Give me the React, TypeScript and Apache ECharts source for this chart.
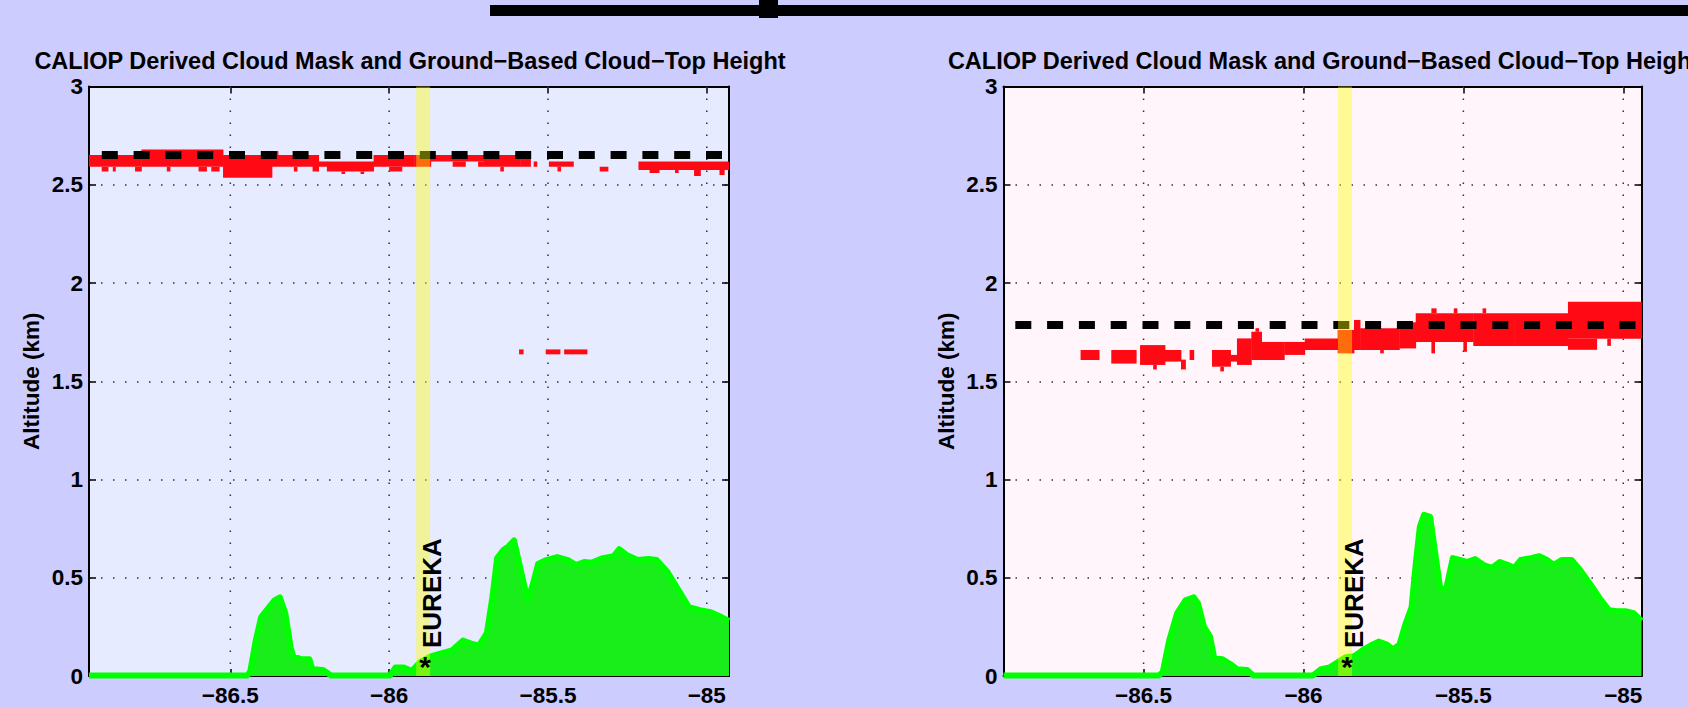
import React, { useEffect, useRef } from 'react';
import * as echarts from 'echarts';

const FONT = '"Liberation Sans", Arial, Helvetica, sans-serif';
const TITLE = 'CALIOP Derived Cloud Mask and Ground\u2212Based Cloud\u2212Top Height';
const Y_NAME = 'Altitude (km)';
const STATION = 'EUREKA';
const STATION_MARK = '*';

const X_TICKS = [-86.5, -86, -85.5, -85];
const Y_MIN = 0;
const Y_MAX = 3;
const Y_STEP = 0.5;

const LEFT_X_RANGE = [-86.945, -84.93];
const RIGHT_X_RANGE = [-86.938, -84.943];

const LEFT_EUREKA_LON = -85.893;
const RIGHT_EUREKA_LON = -85.87;
const EUREKA_HALF_WIDTH = 0.022;

const LEFT_CLOUD_TOP = 2.652;
const RIGHT_CLOUD_TOP = 1.786;

// cloud mask cells: [lonStart, lonEnd, altBottom, altTop]
const LEFT_CLOUD = [
  [-86.945, -86.78, 2.592, 2.652],
  [-86.905, -86.885, 2.567, 2.592],
  [-86.87, -86.862, 2.567, 2.592],
  [-86.8, -86.78, 2.567, 2.592],
  [-86.78, -86.523, 2.592, 2.68],
  [-86.7, -86.69, 2.567, 2.592],
  [-86.6, -86.575, 2.567, 2.592],
  [-86.56, -86.535, 2.567, 2.592],
  [-86.523, -86.369, 2.536, 2.652],
  [-86.369, -86.241, 2.592, 2.652],
  [-86.36, -86.35, 2.652, 2.672],
  [-86.3, -86.29, 2.567, 2.592],
  [-86.241, -86.222, 2.567, 2.652],
  [-86.222, -86.196, 2.592, 2.618],
  [-86.196, -86.049, 2.567, 2.618],
  [-86.15, -86.14, 2.555, 2.567],
  [-86.09, -86.08, 2.555, 2.567],
  [-86.049, -85.921, 2.592, 2.652],
  [-86.0, -85.96, 2.567, 2.592],
  [-85.921, -85.869, 2.592, 2.652],
  [-85.869, -85.703, 2.618, 2.652],
  [-85.8, -85.76, 2.592, 2.618],
  [-85.72, -85.703, 2.592, 2.618],
  [-85.703, -85.587, 2.592, 2.652],
  [-85.65, -85.64, 2.567, 2.592],
  [-85.587, -85.555, 2.592, 2.637],
  [-85.545, -85.535, 2.592, 2.618],
  [-85.497, -85.42, 2.592, 2.618],
  [-85.47, -85.46, 2.567, 2.592],
  [-85.337, -85.311, 2.567, 2.592],
  [-85.215, -84.93, 2.575, 2.618],
  [-85.18, -85.15, 2.56, 2.575],
  [-85.1, -85.09, 2.56, 2.575],
  [-85.04, -85.02, 2.545, 2.575],
  [-84.96, -84.945, 2.55, 2.575],
  [-85.591, -85.578, 1.637, 1.662],
  [-85.507, -85.462, 1.637, 1.662],
  [-85.449, -85.377, 1.637, 1.662],
];

const RIGHT_CLOUD = [
  [-86.697, -86.639, 1.608, 1.659],
  [-86.601, -86.523, 1.59, 1.659],
  [-86.511, -86.433, 1.583, 1.684],
  [-86.47, -86.46, 1.56, 1.583],
  [-86.433, -86.383, 1.6, 1.659],
  [-86.383, -86.369, 1.56, 1.61],
  [-86.356, -86.343, 1.608, 1.659],
  [-86.286, -86.228, 1.574, 1.659],
  [-86.26, -86.25, 1.55, 1.574],
  [-86.228, -86.208, 1.6, 1.634],
  [-86.208, -86.163, 1.583, 1.718],
  [-86.163, -86.131, 1.608, 1.752],
  [-86.15, -86.14, 1.752, 1.77],
  [-86.131, -86.06, 1.608, 1.7],
  [-86.06, -85.996, 1.634, 1.7],
  [-85.996, -85.893, 1.659, 1.718],
  [-85.893, -85.842, 1.642, 1.761],
  [-85.842, -85.823, 1.659, 1.812],
  [-85.823, -85.7, 1.659, 1.77],
  [-85.76, -85.75, 1.642, 1.659],
  [-85.7, -85.649, 1.667, 1.8],
  [-85.649, -85.469, 1.7, 1.846],
  [-85.6, -85.585, 1.846, 1.871],
  [-85.53, -85.52, 1.846, 1.871],
  [-85.6, -85.59, 1.642, 1.7],
  [-85.5, -85.49, 1.65, 1.7],
  [-85.469, -85.34, 1.68, 1.846],
  [-85.44, -85.43, 1.846, 1.871],
  [-85.34, -85.173, 1.68, 1.846],
  [-85.173, -84.943, 1.716, 1.905],
  [-85.173, -85.083, 1.66, 1.716],
  [-85.05, -85.04, 1.68, 1.716],
];

// terrain profile: [lon, altitude]
const LEFT_TERRAIN = [
  [-86.945, 0.003], [-86.446, 0.003], [-86.437, 0.025], [-86.42, 0.18], [-86.403, 0.3],
  [-86.378, 0.35], [-86.361, 0.385], [-86.344, 0.4], [-86.327, 0.32], [-86.31, 0.145],
  [-86.302, 0.1], [-86.276, 0.085], [-86.251, 0.085], [-86.242, 0.035], [-86.208, 0.03],
  [-86.183, 0.003], [-85.997, 0.003], [-85.98, 0.043], [-85.954, 0.043], [-85.929, 0.025],
  [-85.903, 0.07], [-85.869, 0.1], [-85.836, 0.115], [-85.802, 0.13], [-85.768, 0.18],
  [-85.742, 0.165], [-85.717, 0.155], [-85.692, 0.22], [-85.675, 0.4], [-85.66, 0.6],
  [-85.641, 0.64], [-85.624, 0.66], [-85.607, 0.69], [-85.59, 0.57], [-85.564, 0.385],
  [-85.547, 0.47], [-85.531, 0.57], [-85.505, 0.59], [-85.471, 0.605], [-85.437, 0.59],
  [-85.412, 0.565], [-85.386, 0.58], [-85.361, 0.577], [-85.327, 0.6], [-85.293, 0.61],
  [-85.276, 0.645], [-85.251, 0.615], [-85.217, 0.59], [-85.183, 0.595], [-85.158, 0.59],
  [-85.124, 0.53], [-85.09, 0.44], [-85.056, 0.35], [-85.022, 0.335], [-84.988, 0.325],
  [-84.954, 0.3], [-84.93, 0.28],
];

const RIGHT_TERRAIN = [
  [-86.938, 0.003], [-86.452, 0.003], [-86.44, 0.02], [-86.42, 0.18], [-86.395, 0.32],
  [-86.369, 0.385], [-86.343, 0.4], [-86.33, 0.37], [-86.311, 0.25], [-86.292, 0.2],
  [-86.279, 0.09], [-86.253, 0.085], [-86.228, 0.06], [-86.208, 0.035], [-86.176, 0.03],
  [-86.157, 0.003], [-85.97, 0.003], [-85.945, 0.035], [-85.919, 0.043], [-85.893, 0.07],
  [-85.868, 0.095], [-85.842, 0.1], [-85.816, 0.13], [-85.79, 0.155], [-85.765, 0.175],
  [-85.739, 0.16], [-85.72, 0.135], [-85.7, 0.16], [-85.681, 0.265], [-85.662, 0.35],
  [-85.649, 0.57], [-85.636, 0.76], [-85.623, 0.82], [-85.604, 0.81], [-85.591, 0.66],
  [-85.572, 0.44], [-85.553, 0.45], [-85.533, 0.6], [-85.508, 0.59], [-85.488, 0.58],
  [-85.463, 0.595], [-85.437, 0.565], [-85.411, 0.55], [-85.386, 0.58], [-85.36, 0.565],
  [-85.341, 0.55], [-85.321, 0.59], [-85.289, 0.6], [-85.263, 0.61], [-85.238, 0.59],
  [-85.218, 0.565], [-85.193, 0.59], [-85.161, 0.59], [-85.135, 0.54], [-85.096, 0.45],
  [-85.071, 0.39], [-85.045, 0.335], [-85.019, 0.33], [-84.993, 0.33], [-84.968, 0.32],
  [-84.943, 0.28],
];

const PANELS = [
  {
    grid: { left: 89, top: 86.5, width: 640, height: 589.5 },
    bg: '#E6EBFF',
    xRange: LEFT_X_RANGE,
    cloud: LEFT_CLOUD,
    cloudTop: LEFT_CLOUD_TOP,
    terrain: LEFT_TERRAIN,
    eureka: LEFT_EUREKA_LON,
    dashOffset: 19,
  },
  {
    grid: { left: 1003.5, top: 86.5, width: 638, height: 589.5 },
    bg: '#FFF5FA',
    xRange: RIGHT_X_RANGE,
    cloud: RIGHT_CLOUD,
    cloudTop: RIGHT_CLOUD_TOP,
    terrain: RIGHT_TERRAIN,
    eureka: RIGHT_EUREKA_LON,
    dashOffset: 20,
  },
];

const fmtLon = (v: number) => (v < 0 ? '\u2212' : '') + String(Math.abs(v));

function buildOption() {
  const grid: any[] = [];
  const xAxis: any[] = [];
  const yAxis: any[] = [];
  const series: any[] = [];
  const graphic: any[] = [];

  const axisLine = { show: true, onZero: false, lineStyle: { color: '#000', width: 2 } };
  const tickStyle = { color: '#000', width: 1.5 };
  const labelStyle = { color: '#000', fontSize: 22.5, fontWeight: 'bold', fontFamily: FONT };

  PANELS.forEach((p, g) => {
    grid.push({ ...p.grid, show: true, backgroundColor: p.bg, borderWidth: 0, containLabel: false });
    const [xmin, xmax] = p.xRange;
    xAxis.push({
      gridIndex: g, type: 'value', min: xmin, max: xmax, position: 'bottom',
      axisLine,
      axisTick: { show: true, inside: true, length: 7, customValues: X_TICKS, lineStyle: tickStyle },
      axisLabel: { show: true, customValues: X_TICKS, formatter: fmtLon, margin: 8, ...labelStyle },
      splitLine: { show: false },
    });
    xAxis.push({
      gridIndex: g, type: 'value', min: xmin, max: xmax, position: 'top',
      axisLine,
      axisTick: { show: true, inside: true, length: 7, customValues: X_TICKS, lineStyle: tickStyle },
      axisLabel: { show: false },
      splitLine: { show: false },
    });
    yAxis.push({
      gridIndex: g, type: 'value', min: Y_MIN, max: Y_MAX, interval: Y_STEP, position: 'left',
      axisLine,
      axisTick: { show: true, inside: true, length: 7, lineStyle: tickStyle },
      axisLabel: { show: true, margin: 6, ...labelStyle },
      splitLine: { show: true, lineStyle: { color: '#333', width: 1.5, type: [1.5, 10.5] } },
      name: Y_NAME, nameLocation: 'middle', nameGap: 46,
      nameTextStyle: { color: '#000', fontSize: 22.5, fontWeight: 'bold', fontFamily: FONT },
    });
    yAxis.push({
      gridIndex: g, type: 'value', min: Y_MIN, max: Y_MAX, interval: Y_STEP, position: 'right',
      axisLine,
      axisTick: { show: true, inside: true, length: 7, lineStyle: tickStyle },
      axisLabel: { show: false },
      splitLine: { show: false },
    });

    const xi = 2 * g;
    const yi = 2 * g;

    // vertical dotted grid lines
    series.push({
      type: 'custom', xAxisIndex: xi, yAxisIndex: yi, z: 1, silent: true,
      data: X_TICKS.map((v) => [v, Y_MIN]),
      encode: { x: 0, y: 1 },
      renderItem: (params: any, api: any) => {
        const cs = params.coordSys;
        const pt = api.coord([api.value(0), Y_MIN]);
        return {
          type: 'line',
          shape: { x1: pt[0], y1: cs.y + cs.height, x2: pt[0], y2: cs.y },
          style: { stroke: '#333', lineWidth: 1.5, lineDash: [1.5, 10.5] },
        };
      },
    });

    // cloud mask cells
    series.push({
      type: 'custom', xAxisIndex: xi, yAxisIndex: yi, z: 2, silent: true, clip: true,
      data: p.cloud,
      encode: { x: [0, 1], y: [2, 3] },
      renderItem: (params: any, api: any) => {
        const a = api.coord([api.value(0), api.value(3)]);
        const b = api.coord([api.value(1), api.value(2)]);
        return {
          type: 'rect',
          shape: { x: a[0], y: a[1], width: b[0] - a[0] + 0.4, height: b[1] - a[1] },
          style: { fill: '#FF0A14' },
        };
      },
    });

    // terrain
    series.push({
      type: 'line', xAxisIndex: xi, yAxisIndex: yi, z: 3, silent: true,
      data: p.terrain, showSymbol: false, symbol: 'none', clip: true,
      lineStyle: { color: '#00FF00', width: 6, join: 'round' },
      areaStyle: { color: '#1AEE1A', opacity: 1 },
    });

    // ground-based cloud-top height
    series.push({
      type: 'line', xAxisIndex: xi, yAxisIndex: yi, z: 4, silent: true,
      data: [[xmin, p.cloudTop], [xmax, p.cloudTop]], showSymbol: false, symbol: 'none',
      lineStyle: { color: '#000', width: 8, type: [16, 15.8], dashOffset: p.dashOffset, cap: 'butt' },
    });

    // station band
    series.push({
      type: 'custom', xAxisIndex: xi, yAxisIndex: yi, z: 5, silent: true,
      data: [[p.eureka, Y_MIN]],
      encode: { x: 0, y: 1 },
      renderItem: (params: any, api: any) => {
        const cs = params.coordSys;
        const c = api.coord([api.value(0), Y_MIN]);
        const w = api.size([2 * EUREKA_HALF_WIDTH, 0])[0];
        return {
          type: 'rect',
          shape: { x: c[0] - w / 2, y: cs.y, width: w, height: cs.height },
          style: { fill: 'rgba(255,255,0,0.4)' },
        };
      },
    });

    // station label
    series.push({
      type: 'custom', xAxisIndex: xi, yAxisIndex: yi, z: 6, silent: true, clip: false,
      data: [[p.eureka, Y_MIN]],
      encode: { x: 0, y: 1 },
      renderItem: (params: any, api: any) => {
        const c = api.coord([api.value(0), Y_MIN]);
        const font = { fill: '#000', fontWeight: 'bold', fontFamily: FONT };
        return {
          type: 'group',
          children: [
            {
              type: 'text', x: c[0] + 2, y: c[1] - 10,
              style: { ...font, text: STATION_MARK, fontSize: 30, align: 'center', verticalAlign: 'middle' },
            },
            {
              type: 'text', x: c[0] + 8.5, y: c[1] - 28, rotation: Math.PI / 2,
              style: { ...font, text: STATION, fontSize: 26, align: 'left', verticalAlign: 'middle' },
            },
          ],
        };
      },
    });

    // title
    graphic.push({
      type: 'text',
      x: p.grid.left + p.grid.width / 2 + 1,
      y: 73,
      style: {
        text: TITLE, fill: '#000', fontSize: 23.5, fontWeight: 'bold', fontFamily: FONT,
        align: 'center', verticalAlign: 'bottom',
      },
    });
  });

  // top decoration bar
  graphic.push({ type: 'rect', shape: { x: 490, y: 5, width: 1198, height: 11 }, style: { fill: '#000' } });
  graphic.push({ type: 'rect', shape: { x: 759, y: 0, width: 19, height: 18 }, style: { fill: '#000' } });

  return {
    animation: false,
    backgroundColor: '#CCCCFF',
    grid, xAxis, yAxis, series, graphic,
  };
}

export default function App() {
  const ref = useRef<HTMLDivElement>(null);
  useEffect(() => {
    document.body.style.margin = '0';
    if (!ref.current) return;
    const chart = echarts.init(ref.current, undefined, { renderer: 'svg' });
    chart.setOption(buildOption());
    return () => chart.dispose();
  }, []);
  return <div ref={ref} style={{ width: 1688, height: 707 }} />;
}
